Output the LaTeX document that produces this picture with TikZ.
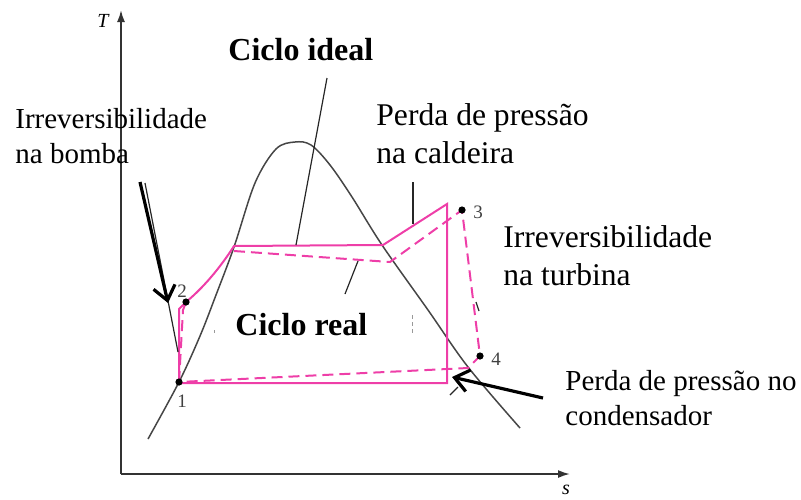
\documentclass[tikz,border=0pt]{standalone}
\usepackage{fontspec}
\setmainfont{Liberation Serif}
\usetikzlibrary{arrows.meta}
\definecolor{cyc}{RGB}{238,62,168}
\definecolor{dome}{RGB}{70,70,70}
\tikzset{
  ideal/.style={draw=cyc, line width=1pt, line join=miter},
  real/.style={draw=cyc, line width=1pt, dash pattern=on 5.5pt off 3pt},
  leader/.style={draw=black!85, line width=0.6pt},
  bigarrow/.style={draw=black, line width=1.6pt, -{Straight Barb[length=7pt,width=11pt,line width=1.6pt]}},
  axis/.style={draw=black!80, line width=0.9pt, -{Latex[length=6pt,width=4pt]}},
  statept/.style={circle, fill=black, inner sep=0pt, minimum size=3.6pt},
  lbl/.style={inner sep=0pt, anchor=base west, align=left, text=black},
  small/.style={font=\fontsize{14.5}{17.3}\selectfont},
  mid/.style={font=\fontsize{15.8}{19}\selectfont},
  boldl/.style={font=\fontsize{16}{19}\selectfont\bfseries},
  num/.style={inner sep=0pt, font=\fontsize{9.5}{11}\selectfont, text=black!75},
  faint/.style={draw=black!40, line width=0.5pt}
}
\begin{document}
\begin{tikzpicture}[x=0.5pt, y=-0.5pt]
\useasboundingbox (0,0) rectangle (801,499);
% axes
\coordinate (O) at (121,474);
\coordinate (Ttop) at (121,10);
\coordinate (Send) at (570,474);
\draw[axis] (O) -- (Ttop);
\draw[axis] (O) -- (Send);
\node[inner sep=0pt, font=\fontsize{10}{12}\selectfont\itshape] (Tl) at (103,21) {T};
\node[inner sep=0pt, font=\fontsize{10}{12}\selectfont\itshape] (sl) at (566,490) {s};
% saturation dome
\draw[draw=dome, line width=0.75pt] plot[smooth, tension=0.55] coordinates
 {(148,439) (179,382) (200,336) (216,295) (234,247) (255,183) (276,149) (295,142) (311,145) (330,165) (352,197) (382,245) (428,310) (468,367) (520,428)};
% state points
\coordinate (p1) at (179,382);
\coordinate (p2) at (186,302);
\coordinate (p3) at (462,210);
\coordinate (p4) at (480,356);
\coordinate (sl) at (234,246);
\coordinate (sv) at (383,245);
\coordinate (c3) at (447,204);
\coordinate (c4) at (447,383);
\coordinate (c1) at (179,383);
\coordinate (rl) at (234,251);
\coordinate (rv) at (390,262);
\coordinate (r4) at (468,368);
% ideal cycle
\draw[ideal] (c1) -- (179,309) -- (p2) .. controls (203,288) and (220,268) .. (sl) -- (sv) -- (c3) -- (c4) -- cycle;
% real cycle
\draw[real] (p1) -- (183,310) -- (p2);
\draw[real] (rl) -- (rv) -- (p3) -- (p4) -- (r4) -- (p1);
\node[statept] (n1) at (p1) {};
\node[statept] (n2) at (p2) {};
\node[statept] (n3) at (p3) {};
\node[statept] (n4) at (p4) {};
\node[num] (l1) at (182,401) {1};
\node[num] (l2) at (182,291) {2};
\node[num] (l3) at (478,212) {3};
\node[num] (l4) at (496,359) {4};
% labels
\node[lbl, boldl] (ideal) at (228,60) {Ciclo ideal};
\node[lbl, boldl] (realc) at (235,335) {Ciclo real};
\node[lbl, small] (bomba) at (15,163) {Irreversibilidade\\na bomba};
\node[lbl, mid] (cald) at (376,163) {Perda de pressão\\na caldeira};
\node[lbl, mid] (turb) at (503,285) {Irreversibilidade\\na turbina};
\node[lbl, small] (cond) at (565,425) {Perda de pressão no\\condensador};
% leaders
\coordinate (a1) at (327,78);
\coordinate (a2) at (296,245);
\draw[leader] (a1) -- (a2);
\coordinate (b1) at (413,182);
\coordinate (b2) at (413,224);
\draw[leader] (b1) -- (b2);
\coordinate (r1) at (345,294);
\coordinate (r2) at (358,261);
\draw[leader] (r1) -- (r2);
\coordinate (t1) at (476,302);
\coordinate (t2) at (479,311);
\draw[leader] (t1) -- (t2);
\coordinate (k1) at (145,183);
\coordinate (k2) at (178,352);
\draw[leader] (k1) -- (k2);
\coordinate (x1) at (450,395);
\coordinate (x2) at (458,387);
\draw[leader] (x1) -- (x2);
\coordinate (f1) at (214,330);
\coordinate (f2) at (214,333);
\draw[faint] (f1) -- (f2);
\coordinate (g1) at (412,315);
\coordinate (g2) at (412,333);
\draw[faint, dash pattern=on 2pt off 1.5pt] (g1) -- (g2);
% big arrows
\coordinate (pa1) at (140,182);
\coordinate (pa2) at (168,303);
\draw[bigarrow] (pa1) -- (pa2);
\coordinate (ca1) at (543,398);
\coordinate (ca2) at (452,377);
\draw[bigarrow] (ca1) -- (ca2);
\end{tikzpicture}
\end{document}
